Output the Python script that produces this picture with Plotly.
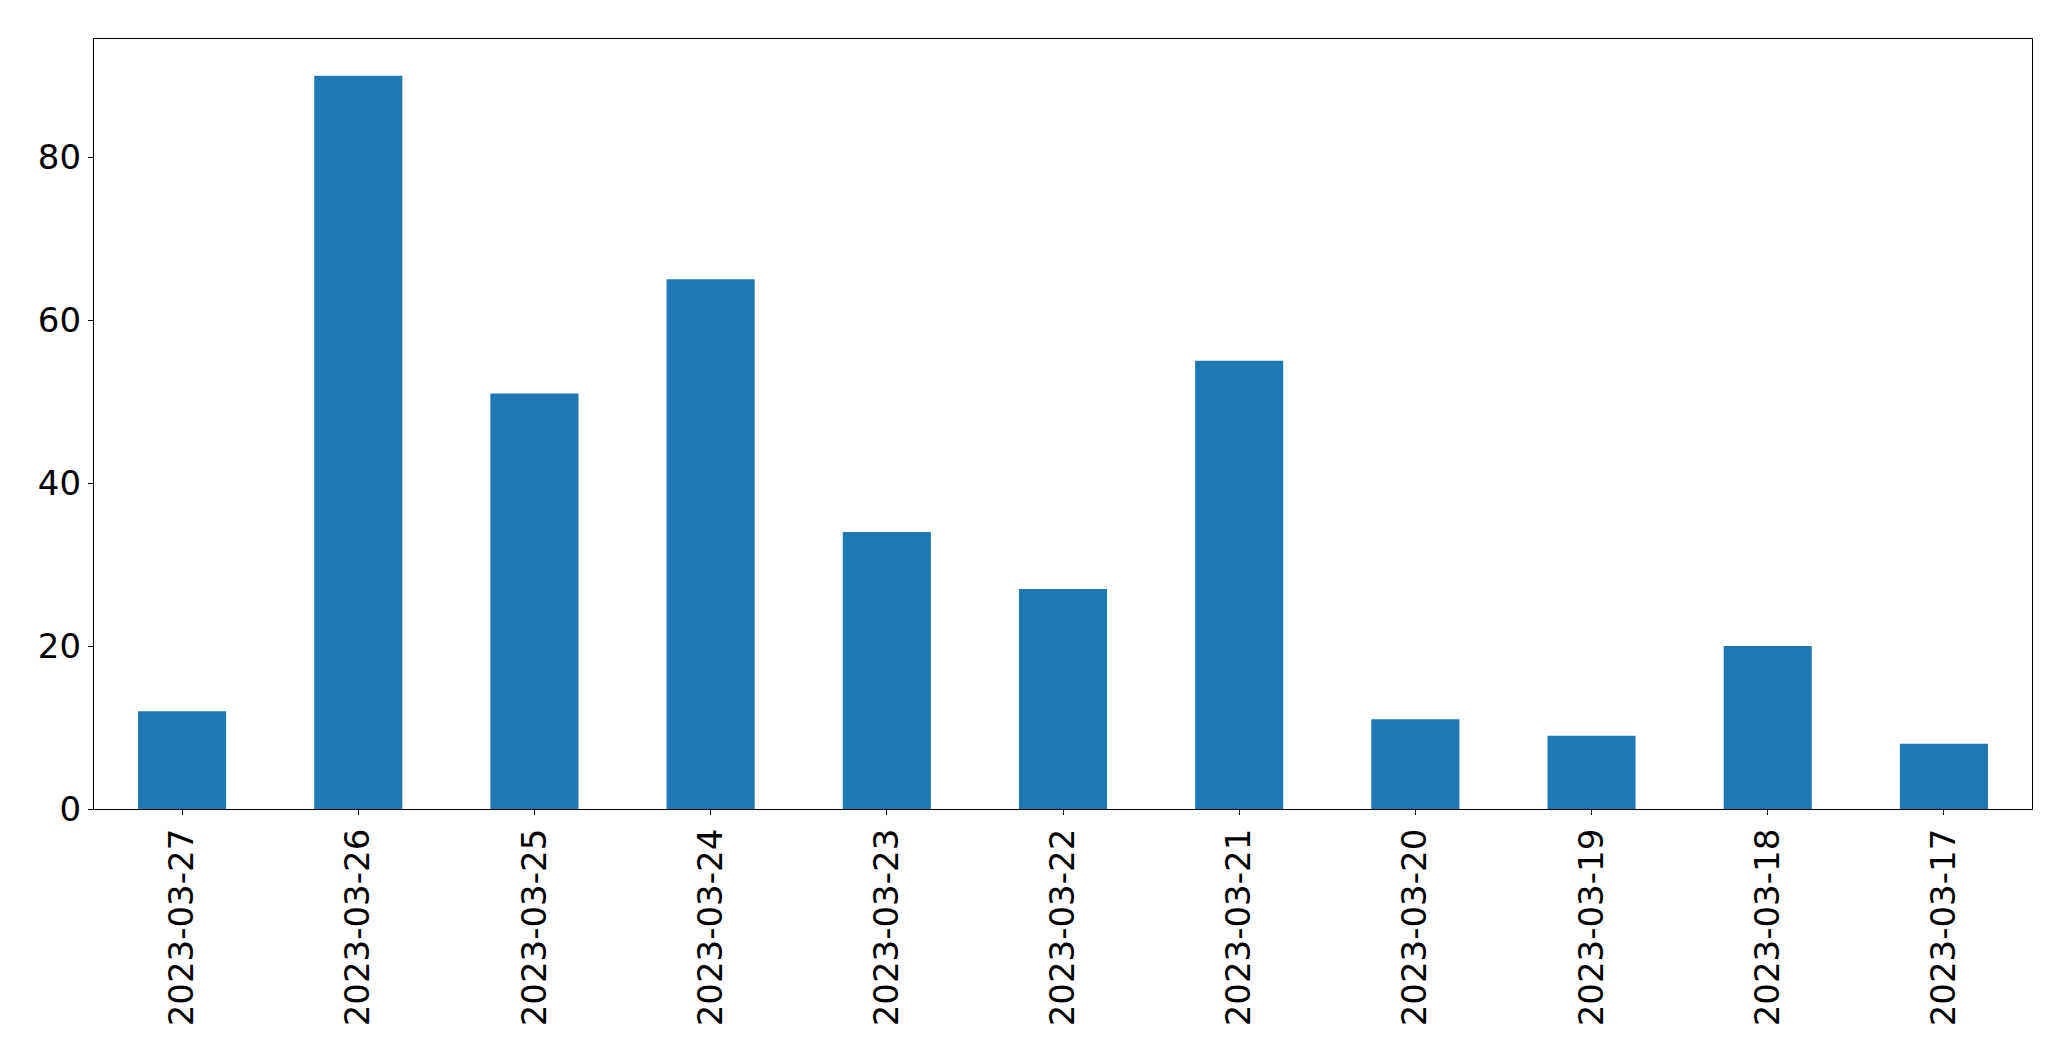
import plotly.graph_objects as go

dates = ["2023-03-27", "2023-03-26", "2023-03-25", "2023-03-24", "2023-03-23",
         "2023-03-22", "2023-03-21", "2023-03-20", "2023-03-19", "2023-03-18", "2023-03-17"]
counts = [12, 90, 51, 65, 34, 27, 55, 11, 9, 20, 8]
y_ticks = [0, 20, 40, 60, 80]

fig = go.Figure(go.Bar(x=dates, y=counts, marker_color="#1f77b4", marker_line_width=0))

axis_common = dict(showline=True, mirror=True, linecolor="black", linewidth=1.3,
                   ticks="outside", ticklen=5, tickwidth=1.3, tickcolor="black",
                   showgrid=False, zeroline=False, automargin=False,
                   tickfont=dict(family="DejaVu Sans", size=34, color="black"))

# page body has an 8px margin, so the figure is offset by 8px
fig.update_layout(
    width=2055, height=1045,
    margin=dict(l=86, r=31, t=31, b=244),
    plot_bgcolor="white", paper_bgcolor="white",
    bargap=0.5, showlegend=False,
    xaxis=dict(type="category", tickangle=-90, range=[-0.5, len(dates) - 0.5], **axis_common),
    yaxis=dict(range=[0, max(counts) * 1.05], tickvals=y_ticks, **axis_common),
)

fig.write_html("out.html")
